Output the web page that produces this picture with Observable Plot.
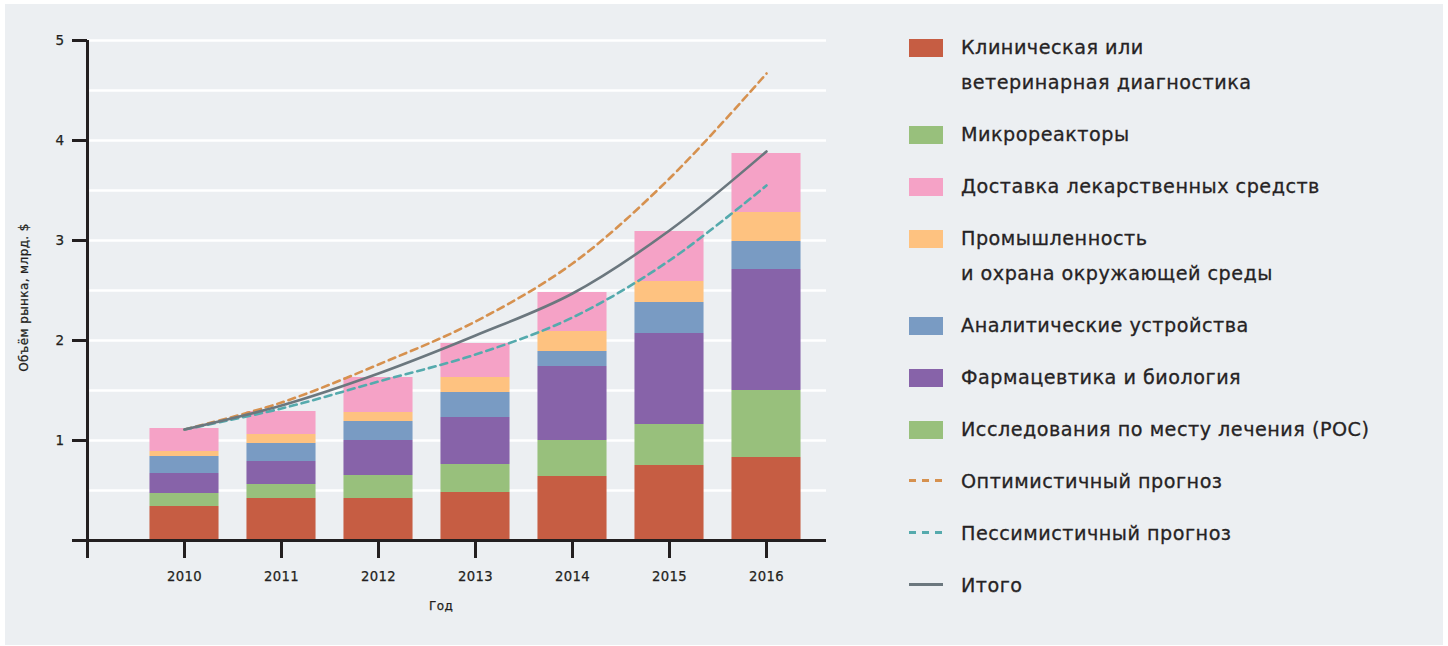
<!DOCTYPE html>
<html>
<head>
<meta charset="utf-8">
<script src="https://cdn.jsdelivr.net/npm/d3@7"></script>
<script src="https://cdn.jsdelivr.net/npm/@observablehq/plot@0.6"></script>
<style>
  html, body { margin: 0; padding: 0; background: #ffffff; }
  body { width: 1448px; height: 646px; position: relative; overflow: hidden; font-family: "DejaVu Sans", sans-serif; }
  #panel { position: absolute; left: 5px; top: 4px; width: 1438px; height: 641px; background: #eceff2; }
  #chart { position: absolute; left: 0; top: 0; }
  #chart text { stroke: #231f20; stroke-width: 0.25px; letter-spacing: 0.4px; }
  #legend { position: absolute; left: 909px; top: 30px; color: #262324; }
  .item { display: flex; align-items: flex-start; margin-bottom: 17px; }
  .sw { width: 34px; height: 18px; margin-top: 8.5px; margin-right: 18px; flex: none; }
  .ln { width: 34px; height: 3px; margin-top: 15px; margin-right: 18px; flex: none; }
  .txt { font-size: 19.2px; line-height: 35px; letter-spacing: 0.5px; white-space: nowrap; -webkit-text-stroke: 0.3px #262324; }
</style>
</head>
<body>
<div id="panel"></div>
<div id="chart"></div>
<div id="legend"></div>
<script>
// ---- data ----
const years = [2010, 2011, 2012, 2013, 2014, 2015, 2016];
const xTickValues = [2009, 2010, 2011, 2012, 2013, 2014, 2015, 2016];
const yTickValues = [0, 1, 2, 3, 4, 5];
const gridValues = [0.5, 1, 1.5, 2, 2.5, 3, 3.5, 4, 4.5, 5];

const clinical  = [0.34, 0.42, 0.42, 0.48, 0.64, 0.75, 0.83];
const poc       = [0.13, 0.14, 0.23, 0.28, 0.36, 0.41, 0.67];
const pharma    = [0.20, 0.23, 0.35, 0.47, 0.74, 0.91, 1.21];
const analytic  = [0.17, 0.18, 0.19, 0.25, 0.15, 0.31, 0.28];
const industry  = [0.05, 0.09, 0.09, 0.15, 0.20, 0.21, 0.29];
const delivery  = [0.23, 0.23, 0.35, 0.34, 0.39, 0.50, 0.59];

const totalLine       = [1.11, 1.35, 1.67, 2.05, 2.47, 3.10, 3.89];
const optimisticLine  = [1.11, 1.38, 1.76, 2.19, 2.77, 3.62, 4.67];
const pessimisticLine = [1.11, 1.32, 1.59, 1.86, 2.23, 2.80, 3.55];

const seriesNames = [
  "Клиническая или ветеринарная диагностика",
  "Исследования по месту лечения (POC)",
  "Фармацевтика и биология",
  "Аналитические устройства",
  "Промышленность и охрана окружающей среды",
  "Доставка лекарственных средств"
];
const seriesValues = [clinical, poc, pharma, analytic, industry, delivery];
const seriesColors = ["#c65d43", "#98c07c", "#8763a9", "#799bc3", "#fec280", "#f5a2c6"];

const legendItems = [
  {label: ["Клиническая или", "ветеринарная диагностика"], color: "#c65d43", kind: "box"},
  {label: ["Микрореакторы"], color: "#98c07c", kind: "box"},
  {label: ["Доставка лекарственных средств"], color: "#f5a2c6", kind: "box"},
  {label: ["Промышленность", "и охрана окружающей среды"], color: "#fec280", kind: "box"},
  {label: ["Аналитические устройства"], color: "#799bc3", kind: "box"},
  {label: ["Фармацевтика и биология"], color: "#8763a9", kind: "box"},
  {label: ["Исследования по месту лечения (POC)"], color: "#98c07c", kind: "box"},
  {label: ["Оптимистичный прогноз"], color: "#d6914f", kind: "dash"},
  {label: ["Пессимистичный прогноз"], color: "#55aaad", kind: "dash"},
  {label: ["Итого"], color: "#6b777e", kind: "solid"}
];

const yLabel = "Объём рынка, млрд. $";
const xLabel = "Год";

// ---- build tables ----
const barRows = [];
years.forEach((yr, i) => {
  let acc = 0;
  seriesNames.forEach((name, s) => {
    const v = seriesValues[s][i];
    barRows.push({year: yr, series: name, y1: acc, y2: acc + v});
    acc += v;
  });
});
const lineRows = (arr) => years.map((yr, i) => ({year: yr, value: arr[i]}));

const halfBar = 0.356;
const ink = "#231f20";

const chart = Plot.plot({
  width: 860,
  height: 646,
  marginLeft: 87,
  marginRight: 34,
  marginTop: 40,
  marginBottom: 106,
  style: {background: "transparent", fontFamily: "DejaVu Sans, sans-serif", color: ink},
  x: {type: "linear", domain: [2009, 2009 + 739 / 97]},
  y: {domain: [0, 5]},
  color: {domain: seriesNames, range: seriesColors},
  marks: [
    Plot.ruleY(gridValues, {stroke: "#ffffff", strokeWidth: 2.6}),
    Plot.rect(barRows, {x1: d => d.year - halfBar, x2: d => d.year + halfBar, y1: "y1", y2: "y2", fill: "series"}),
    Plot.line(lineRows(optimisticLine), {x: "year", y: "value", stroke: "#d6914f", strokeWidth: 2.6, strokeDasharray: "7,5", curve: "catmull-rom"}),
    Plot.line(lineRows(pessimisticLine), {x: "year", y: "value", stroke: "#55aaad", strokeWidth: 2.6, strokeDasharray: "7,5", curve: "catmull-rom"}),
    Plot.line(lineRows(totalLine), {x: "year", y: "value", stroke: "#6b777e", strokeWidth: 2.6, curve: "catmull-rom"}),
    Plot.ruleX([2009], {stroke: ink, strokeWidth: 3}),
    Plot.ruleY([0], {stroke: ink, strokeWidth: 3}),
    Plot.axisX({ticks: xTickValues, tickSize: 18, tickPadding: 13, strokeWidth: 3, stroke: ink, fontSize: 13.2, label: null,
      tickFormat: d => (d === 2009 ? "" : String(d))}),
    Plot.axisY({ticks: yTickValues, tickSize: 15, tickPadding: 8, strokeWidth: 3, stroke: ink, fontSize: 13.5, label: null,
      tickFormat: d => (d === 0 ? "" : String(d))}),
    Plot.text([xLabel], {frameAnchor: "bottom", dx: -16, dy: 69, fontSize: 12, fill: ink}),
    Plot.text([yLabel], {frameAnchor: "left", textAnchor: "middle", rotate: -90, dx: -63, dy: 7, fontSize: 12, fill: ink})
  ]
});
document.getElementById("chart").appendChild(chart);

// ---- legend ----
const legend = document.getElementById("legend");
legendItems.forEach(item => {
  const row = document.createElement("div");
  row.className = "item";
  const key = document.createElement("div");
  if (item.kind === "box") {
    key.className = "sw";
    key.style.background = item.color;
  } else {
    key.className = "ln";
    key.style.background = item.kind === "dash"
      ? `repeating-linear-gradient(to right, ${item.color} 0 7px, transparent 7px 13px)`
      : item.color;
  }
  const txt = document.createElement("div");
  txt.className = "txt";
  txt.innerHTML = item.label.join("<br>");
  row.appendChild(key);
  row.appendChild(txt);
  legend.appendChild(row);
});
</script>
</body>
</html>
